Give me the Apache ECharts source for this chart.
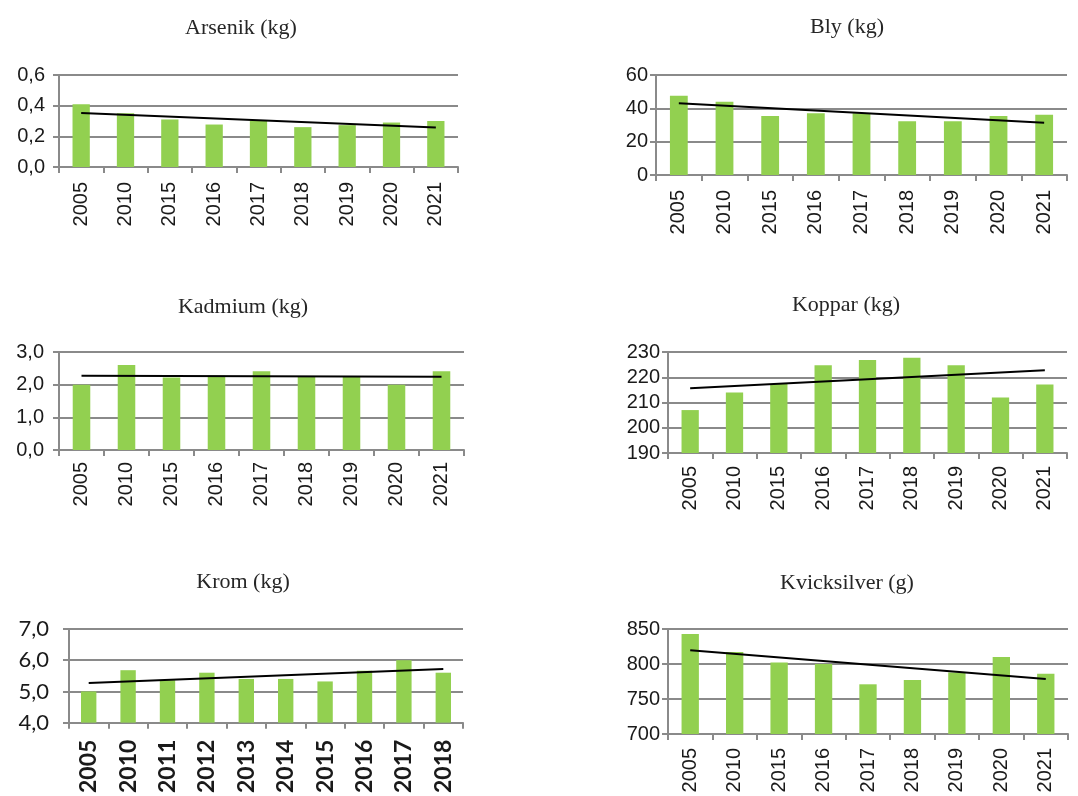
<!DOCTYPE html>
<html>
<head>
<meta charset="utf-8">
<script src="https://cdn.jsdelivr.net/npm/echarts@6/dist/echarts.min.js"></script>
<style>
  html, body { margin: 0; padding: 0; background: #fff; }
  #chart { width: 1078px; height: 796px; }
</style>
</head>
<body>
<div id="chart"></div>
<script>
// Years shown on the category axes
const yearsMain = ['2005', '2010', '2015', '2016', '2017', '2018', '2019', '2020', '2021'];
const yearsKrom = ['2005', '2010', '2011', '2012', '2013', '2014', '2015', '2016', '2017', '2018'];

// Emissions per metal
const arsenik = [0.41, 0.35, 0.31, 0.277, 0.30, 0.26, 0.273, 0.29, 0.30];
const bly = [47.6, 44, 35.4, 37, 37, 32.2, 32.2, 35.4, 36.2];
const kadmium = [2.0, 2.6, 2.22, 2.27, 2.41, 2.24, 2.24, 2.0, 2.41];
const koppar = [207, 214, 217.3, 224.8, 226.8, 227.7, 224.8, 212, 217.1];
const krom = [5.0, 5.68, 5.36, 5.6, 5.4, 5.4, 5.32, 5.66, 6.0, 5.6];
const kvicksilver = [843, 817, 802, 800, 771, 777, 788, 810, 786];

// Linear trend line end points (first and last year)
const arsenikTrend = [0.352, 0.258];
const blyTrend = [43, 31.4];
const kadmiumTrend = [2.27, 2.24];
const kopparTrend = [215.6, 222.8];
const kromTrend = [5.27, 5.72];
const kvicksilverTrend = [819.5, 778.6];

// Panel titles
const titles = ['Arsenik (kg)', 'Bly (kg)', 'Kadmium (kg)', 'Koppar (kg)', 'Krom (kg)', 'Kvicksilver (g)'];

// Value axis ranges: [min, max, interval]
const yRanges = [[0, 0.6, 0.2], [0, 60, 20], [0, 3, 1], [190, 230, 10], [4, 7, 1], [700, 850, 50]];

const panels = [
  { cats: yearsMain, vals: arsenik, trend: arsenikTrend, grid: { left: 59, top: 75, width: 399, height: 92 }, yMargin: 14, xMargin: 15, dec: 1, title: [241, 28], krom: false },
  { cats: yearsMain, vals: bly, trend: blyTrend, grid: { left: 656, top: 75, width: 411, height: 100 }, yMargin: 8, xMargin: 15, dec: 0, title: [847, 27], krom: false },
  { cats: yearsMain, vals: kadmium, trend: kadmiumTrend, grid: { left: 59, top: 352, width: 405, height: 98 }, yMargin: 15, xMargin: 12, dec: 1, title: [243, 307], krom: false },
  { cats: yearsMain, vals: koppar, trend: kopparTrend, grid: { left: 668, top: 352, width: 399, height: 101 }, yMargin: 8, xMargin: 13, dec: 0, title: [846, 305], krom: false },
  { cats: yearsKrom, vals: krom, trend: kromTrend, grid: { left: 69, top: 629, width: 394, height: 94 }, yMargin: 20, xMargin: 17, dec: 1, title: [243, 582], krom: true },
  { cats: yearsMain, vals: kvicksilver, trend: kvicksilverTrend, grid: { left: 668, top: 629, width: 400, height: 105 }, yMargin: 8, xMargin: 14, dec: 0, title: [847, 583], krom: false }
];

const GRID_COLOR = '#8a8a8a';
const BAR_COLOR = '#92D050';
const SANS = 'Liberation Sans, Arial, sans-serif';

const grids = [], xAxes = [], yAxes = [], series = [], graphics = [];

panels.forEach((p, i) => {
  const [ymin, ymax, step] = yRanges[i];
  grids.push(Object.assign({}, p.grid));
  xAxes.push({
    type: 'category',
    gridIndex: i,
    data: p.cats,
    boundaryGap: true,
    axisLine: { show: true, lineStyle: { color: GRID_COLOR, width: 2 } },
    axisTick: { show: true, length: 6, alignWithLabel: false, lineStyle: { color: GRID_COLOR, width: 2 } },
    axisLabel: {
      rotate: 90,
      interval: 0,
      margin: p.xMargin,
      color: '#1a1a1a',
      fontFamily: p.krom ? 'Lato, sans-serif' : SANS,
      fontWeight: p.krom ? 'bold' : 'normal',
      fontSize: p.krom ? 23 : 20
    },
    splitLine: { show: false }
  });
  yAxes.push({
    type: 'value',
    gridIndex: i,
    min: ymin,
    max: ymax,
    interval: step,
    axisLine: { show: true, lineStyle: { color: GRID_COLOR, width: 2 } },
    axisTick: { show: true, length: 6, lineStyle: { color: GRID_COLOR, width: 2 } },
    axisLabel: {
      margin: p.yMargin,
      color: '#1a1a1a',
      fontFamily: p.krom ? 'Lato, sans-serif' : SANS,
      fontSize: p.krom ? 22 : 20,
      formatter: v => v.toFixed(p.dec).replace('.', ',')
    },
    splitLine: { show: true, lineStyle: { color: GRID_COLOR, width: 2 } }
  });
  series.push({
    type: 'bar',
    xAxisIndex: i,
    yAxisIndex: i,
    data: p.vals,
    barWidth: '39%',
    itemStyle: { color: BAR_COLOR },
    silent: true,
    animation: false,
    z: 2
  });
  const last = p.cats.length - 1;
  series.push({
    type: 'line',
    xAxisIndex: i,
    yAxisIndex: i,
    data: [[p.cats[0], p.trend[0]], [p.cats[last], p.trend[1]]],
    symbol: 'none',
    lineStyle: { color: '#000', width: 2 },
    silent: true,
    animation: false,
    z: 3
  });
  graphics.push({
    type: 'text',
    x: p.title[0],
    y: p.title[1],
    style: {
      text: titles[i],
      fill: '#262626',
      font: '22px "Liberation Serif", "DejaVu Serif", serif',
      textAlign: 'center',
      textVerticalAlign: 'middle'
    }
  });
});

const chart = echarts.init(document.getElementById('chart'), null, { renderer: 'canvas' });
chart.setOption({
  backgroundColor: '#ffffff',
  animation: false,
  grid: grids,
  xAxis: xAxes,
  yAxis: yAxes,
  series: series,
  graphic: graphics
});
</script>
</body>
</html>
